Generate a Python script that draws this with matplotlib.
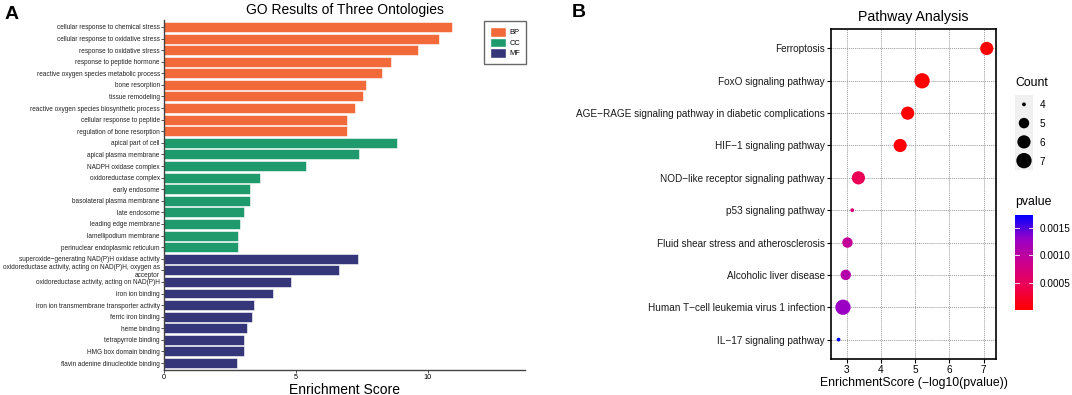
import numpy as np
import matplotlib
matplotlib.use("Agg")
import matplotlib.pyplot as plt
from matplotlib.colors import LinearSegmentedColormap, Normalize
from matplotlib.patches import Patch

plt.rcParams['font.family'] = ['Liberation Sans', 'DejaVu Sans']

# ---- panel A data ----
bp_terms = ['cellular response to chemical stress', 'cellular response to oxidative stress',
            'response to oxidative stress', 'response to peptide hormone',
            'reactive oxygen species metabolic process', 'bone resorption', 'tissue remodeling',
            'reactive oxygen species biosynthetic process', 'cellular response to peptide',
            'regulation of bone resorption']
bp_scores = [10.93, 10.44, 9.63, 8.62, 8.27, 7.66, 7.54, 7.23, 6.94, 6.93]

cc_terms = ['apical part of cell', 'apical plasma membrane', 'NADPH oxidase complex',
            'oxidoreductase complex', 'early endosome', 'basolateral plasma membrane',
            'late endosome', 'leading edge membrane', 'lamellipodium membrane',
            'perinuclear endoplasmic reticulum']
cc_scores = [8.85, 7.40, 5.38, 3.64, 3.27, 3.26, 3.03, 2.88, 2.79, 2.79]

mf_terms = ['superoxide\u2212generating NAD(P)H oxidase activity',
            'oxidoreductase activity, acting on NAD(P)H, oxygen as\nacceptor',
            'oxidoreductase activity, acting on NAD(P)H', 'iron ion binding',
            'iron ion transmembrane transporter activity', 'ferric iron binding',
            'heme binding', 'tetrapyrrole binding', 'HMG box domain binding',
            'flavin adenine dinucleotide binding']
mf_scores = [7.36, 6.63, 4.81, 4.13, 3.43, 3.35, 3.16, 3.04, 3.02, 2.77]

ont_names = ['BP', 'CC', 'MF']
ont_colors = ['#F26A3A', '#1F9A6C', '#353679']

# ---- panel B data ----
pathways = ['Ferroptosis', 'FoxO signaling pathway',
            'AGE\u2212RAGE signaling pathway in diabetic complications',
            'HIF\u22121 signaling pathway', 'NOD\u2212like receptor signaling pathway',
            'p53 signaling pathway', 'Fluid shear stress and atherosclerosis',
            'Alcoholic liver disease', 'Human T\u2212cell leukemia virus 1 infection',
            'IL\u221217 signaling pathway']
enrich = [7.09, 5.20, 4.78, 4.56, 3.34, 3.16, 3.02, 2.97, 2.89, 2.76]
counts = [6, 7, 6, 6, 6, 4, 5, 5, 7, 4]
pvals = [8.1e-8, 6.3e-6, 1.7e-5, 2.8e-5, 4.6e-4, 6.9e-4, 9.5e-4, 1.07e-3, 1.29e-3, 1.74e-3]
count_levels = [4, 5, 6, 7]
pval_ticks = [0.0005, 0.0010, 0.0015]


def dot_size(c):
    # ggplot-like area scale, returned as points^2
    size = 1 + 5 * np.sqrt((np.asarray(c) - 4) / 3.0)
    diam_px = 2.3 * size + 1.5
    return (diam_px * 0.72) ** 2


fig = plt.figure(figsize=(10.72, 3.95), dpi=100)

# ================= panel A =================
ax1 = fig.add_axes([0.1530, 0.0633, 0.3368, 0.8861])
terms = bp_terms + cc_terms + mf_terms
scores = bp_scores + cc_scores + mf_scores
colors = [ont_colors[0]] * len(bp_terms) + [ont_colors[1]] * len(cc_terms) + [ont_colors[2]] * len(mf_terms)
ypos = np.arange(len(terms))
ax1.barh(ypos, scores, height=0.86, color=colors, edgecolor='white', linewidth=0.4)
ax1.set_ylim(len(terms) - 0.4, -0.6)
ax1.set_xlim(0, 13.7)
ax1.set_yticks(ypos)
ax1.set_yticklabels(terms, fontsize=4.7, color='#222222')
ax1.set_xticks([0, 5, 10])
ax1.tick_params(axis='x', labelsize=5.3, length=2, width=0.6, pad=1, color='#333333')
ax1.tick_params(axis='y', length=2, width=0.6, pad=1, color='#333333')
for s in ['top', 'right']:
    ax1.spines[s].set_visible(False)
for s in ['left', 'bottom']:
    ax1.spines[s].set_color('#444444')
    ax1.spines[s].set_linewidth(1.0)
ax1.set_title('GO Results of Three Ontologies', fontsize=10, pad=4)
ax1.set_xlabel('Enrichment Score', fontsize=10, labelpad=1)
handles = [Patch(facecolor=c, edgecolor='white', label=n) for c, n in zip(ont_colors, ont_names)]
leg = ax1.legend(handles=handles, loc='upper right', bbox_to_anchor=(1.003, 0.997), fontsize=5.4,
                 frameon=True, fancybox=False, borderaxespad=0, handlelength=2.1, handleheight=1.6,
                 handletextpad=0.5, labelspacing=0.12, borderpad=0.8)
leg.get_frame().set_edgecolor('#444444')
leg.get_frame().set_linewidth(1.0)

# ================= panel B =================
ax2 = fig.add_axes([0.7752, 0.0911, 0.1539, 0.8354])
cmap = LinearSegmentedColormap.from_list('rb', [(0, '#FF0000'), (0.25, '#EC0052'), (0.5, '#CB008E'),
                                                (0.75, '#9800C6'), (1, '#0000FF')])
norm = Normalize(vmin=min(pvals), vmax=max(pvals))
yb = np.arange(len(pathways))
ax2.set_axisbelow(True)
ax2.grid(True, color='#9a9a9a', linestyle=(0, (1, 1)), linewidth=0.7)
ax2.scatter(enrich, yb, s=dot_size(counts), c=pvals, cmap=cmap, norm=norm, linewidths=0, zorder=3)
ax2.set_ylim(len(pathways) - 0.4, -0.6)
ax2.set_xlim(2.54, 7.36)
ax2.set_yticks(yb)
ax2.set_yticklabels(pathways, fontsize=6.95, color='#1a1a1a')
ax2.set_xticks([3, 4, 5, 6, 7])
ax2.tick_params(axis='both', labelsize=7.2, length=3, width=0.8, pad=1.5)
for s in ax2.spines.values():
    s.set_linewidth(1.2)
ax2.set_title('Pathway Analysis', fontsize=10.2, pad=6)
ax2.set_xlabel('EnrichmentScore (\u2212log10(pvalue))', fontsize=8.8, labelpad=1)

# count legend
axl = fig.add_axes([0.9468, 0.5696, 0.0168, 0.1899])
axl.set_facecolor('#F0F0F0')
ly = np.arange(len(count_levels))
axl.scatter(np.zeros(len(count_levels)), ly, s=dot_size(count_levels), color='black', linewidths=0)
axl.set_xlim(-1, 1)
axl.set_ylim(len(count_levels) - 0.5, -0.5)
axl.set_xticks([])
axl.yaxis.tick_right()
axl.set_yticks(ly)
axl.set_yticklabels([str(c) for c in count_levels], fontsize=7.2)
axl.tick_params(axis='y', length=0, pad=5)
for s in axl.spines.values():
    s.set_visible(False)
fig.text(0.9468, 1 - 83 / 395, 'Count', fontsize=8.8, va='center', ha='left')

# pvalue colorbar
axc = fig.add_axes([0.9468, 0.2152, 0.0168, 0.2405])
sm = plt.cm.ScalarMappable(norm=norm, cmap=cmap)
cb = fig.colorbar(sm, cax=axc)
cb.outline.set_visible(False)
cb.set_ticks(pval_ticks)
cb.set_ticklabels(['%.4f' % v for v in pval_ticks])
axc.tick_params(axis='y', labelsize=7.2, length=0, pad=5)
for v in pval_ticks:
    axc.plot([0, 0.2], [v, v], color='white', lw=0.6, transform=axc.get_yaxis_transform())
    axc.plot([0.8, 1], [v, v], color='white', lw=0.6, transform=axc.get_yaxis_transform())
fig.text(0.9468, 1 - 202 / 395, 'pvalue', fontsize=8.8, va='center', ha='left')

fig.text(0.004, 0.985, 'A', fontsize=14, fontweight='bold', va='top', ha='left')
fig.text(572 / 1072, 0.99, 'B', fontsize=14, fontweight='bold', va='top', ha='left')

fig.savefig('out.png', dpi=100)
